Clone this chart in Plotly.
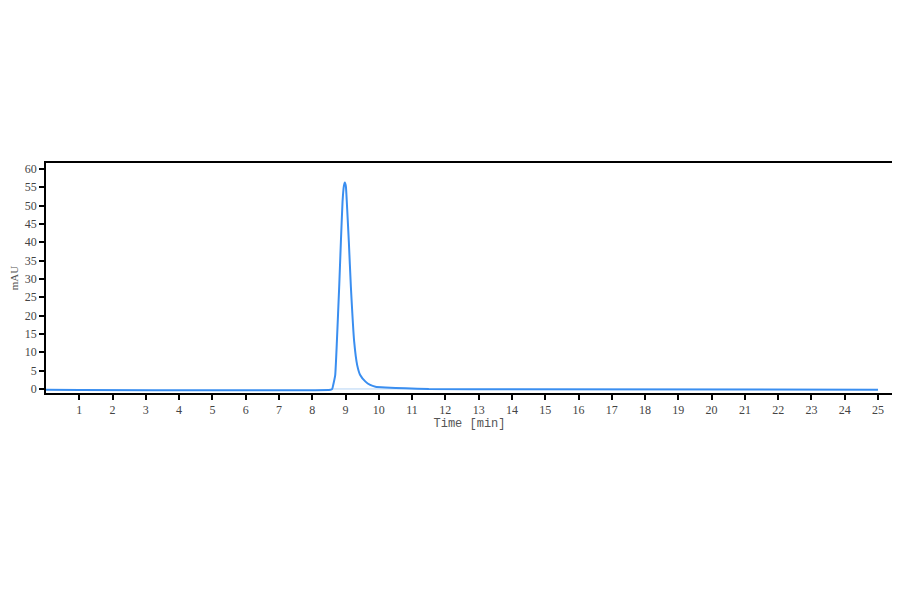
import plotly.graph_objects as go

# chromatogram trace
time_min = [0, 8.55, 8.6, 8.63, 8.69, 8.74, 8.81, 8.86, 8.91, 8.95, 8.98, 9.01, 9.05, 9.1,
            9.16, 9.26, 9.35, 9.44, 9.6, 9.74, 9.9, 10.2, 10.8, 11.5, 14, 25]
signal_mau = [-0.2, -0.2, 0.0, 1.1, 3.8, 12.9, 28, 40, 51, 55.3, 56.3, 55.3, 49, 40,
              28, 12.9, 6.5, 3.8, 2.0, 1.1, 0.6, 0.4, 0.2, 0.0, -0.1, -0.2]

# integration baseline under the peak
base_time = [8.6, 11.5]
base_mau = [0.0, 0.0]

x_ticks = list(range(1, 26))
y_ticks = list(range(0, 61, 5))

fig = go.Figure()
fig.add_trace(go.Scatter(x=base_time, y=base_mau, mode="lines",
                         line=dict(color="#b5d4f5", width=1), hoverinfo="skip"))
fig.add_trace(go.Scatter(x=time_min, y=signal_mau, mode="lines",
                         line=dict(color="#3a8ef0", width=2, shape="spline", smoothing=0.4)))

font = "Liberation Serif"
# the page body adds an 8px offset, so margins are shifted by that much
fig.update_layout(
    width=900, height=594,
    margin=dict(l=38, r=15, t=155, b=209),
    paper_bgcolor="white", plot_bgcolor="white",
    showlegend=False,
    font=dict(family=font, size=12, color="#444"),
)
fig.update_xaxes(
    range=[0, 25.45], tickvals=x_ticks, ticks="outside", ticklen=5, tickwidth=1.5,
    tickcolor="black", showline=True, linecolor="black", linewidth=1.5, mirror=True,
    showgrid=False, zeroline=False, automargin=False,
    title=dict(text="Time [min]", font=dict(family="Liberation Mono", size=12, color="#555"), standoff=2),
)
fig.update_yaxes(
    range=[-1.1, 61.6], tickvals=y_ticks, ticks="outside", ticklen=5, tickwidth=1.5,
    tickcolor="black", showline=True, linecolor="black", linewidth=1.5, mirror=True,
    showgrid=False, zeroline=False, automargin=False,
    title=dict(text="mAU", font=dict(family=font, size=11, color="#555"), standoff=18),
)

fig.write_html("out.html")
